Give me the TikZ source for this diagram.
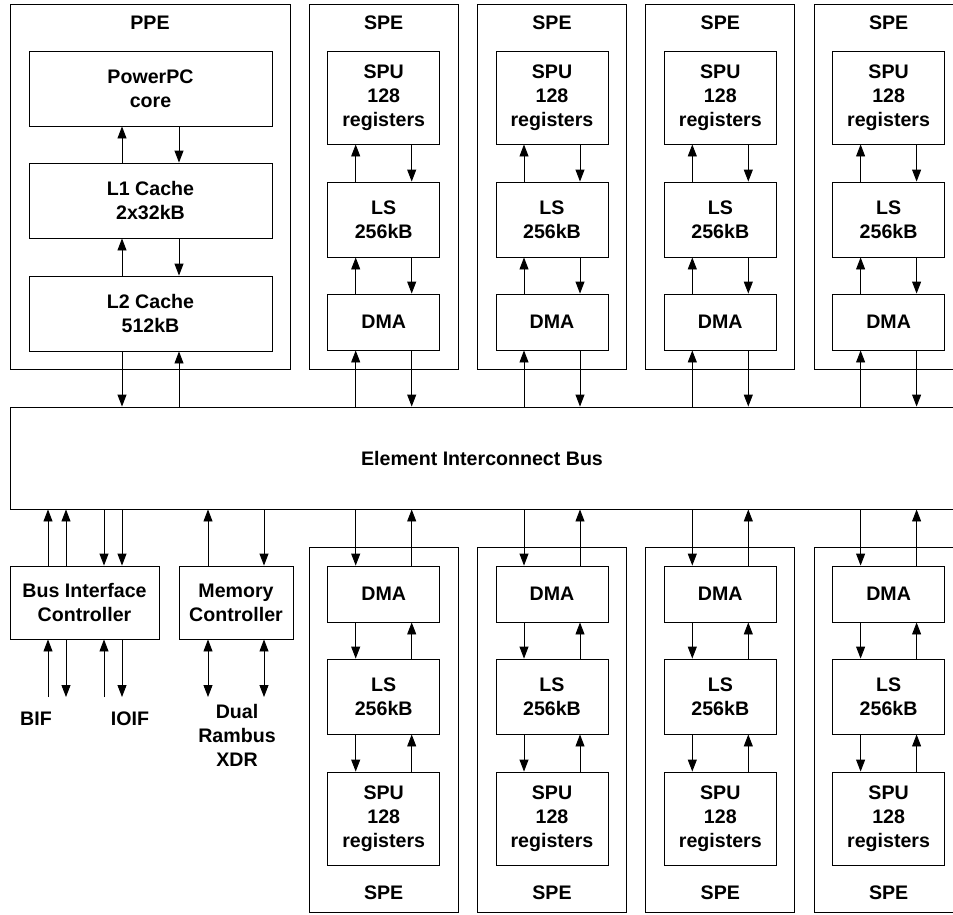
\documentclass[tikz,border=0pt]{standalone}
\usepackage{fontspec}
\setmainfont{Liberation Sans}
\usetikzlibrary{arrows.meta}
\tikzset{
  every node/.style={font=\fontsize{19.6}{24}\selectfont\bfseries, align=center, inner sep=0pt},
  boxline/.style={draw=black, line width=0.9pt},
  outerbox/.style={boxline},
  unitbox/.style={boxline},
  lbl/.style={},
  arr/.style={draw=black, line width=0.9pt, -{Triangle[width=9pt,length=12pt]}},
  darr/.style={draw=black, line width=0.9pt, {Triangle[width=9pt,length=12pt]}-{Triangle[width=9pt,length=12pt]}}
}
\begin{document}
\begin{tikzpicture}[x=1pt,y=-1pt]
\useasboundingbox (0,0) rectangle (953,914);
\clip (0,0) rectangle (953,914);

% Bus
\node[boxline, minimum width=990pt, minimum height=102pt] (bus) at (505,458) {};
\node[lbl] (busL) at (482,458) {Element Interconnect Bus};

% PPE
\node[outerbox, minimum width=280pt, minimum height=365pt] (ppe) at (150,186.5) {};
\node[lbl] (ppeL) at (150,23) {PPE};
\node[unitbox, minimum width=243pt, minimum height=75pt] (ppc) at (150.5,88.5) {PowerPC\\core};
\node[unitbox, minimum width=243pt, minimum height=75pt] (l1) at (150.5,200.5) {L1 Cache\\2x32kB};
\node[unitbox, minimum width=243pt, minimum height=75pt] (l2) at (150.5,313.5) {L2 Cache\\512kB};
\draw[arr] ([xshift=-28.5pt]l1.north) -- ([xshift=-28.5pt]ppc.south);
\draw[arr] ([xshift=28.5pt]ppc.south) -- ([xshift=28.5pt]l1.north);
\draw[arr] ([xshift=-28.5pt]l2.north) -- ([xshift=-28.5pt]l1.south);
\draw[arr] ([xshift=28.5pt]l1.south) -- ([xshift=28.5pt]l2.north);
\coordinate (pA) at ([xshift=-28.5pt]l2.south);
\coordinate (pB) at ([xshift=28.5pt]l2.south);
\draw[arr] (pA) -- (pA |- bus.north);
\draw[arr] (pB |- bus.north) -- (pB);

% SPEs
\foreach \k in {0,1,2,3}{
  \pgfmathsetmacro\cx{383.7+168.3*\k}
  % top row
  \node[outerbox, minimum width=149pt, minimum height=365pt] (tspe\k) at (\cx,186.5) {};
  \node[lbl] (tspeL\k) at (\cx,23) {SPE};
  \node[unitbox, minimum width=112pt, minimum height=93pt] (tspu\k) at (\cx,97.5) {SPU\\128\\registers};
  \node[unitbox, minimum width=112pt, minimum height=75pt] (tls\k) at (\cx,219.5) {LS\\256kB};
  \node[unitbox, minimum width=112pt, minimum height=56pt] (tdma\k) at (\cx,322) {DMA};
  \draw[arr] ([xshift=-28pt]tls\k.north) -- ([xshift=-28pt]tspu\k.south);
  \draw[arr] ([xshift=28pt]tspu\k.south) -- ([xshift=28pt]tls\k.north);
  \draw[arr] ([xshift=-28pt]tdma\k.north) -- ([xshift=-28pt]tls\k.south);
  \draw[arr] ([xshift=28pt]tls\k.south) -- ([xshift=28pt]tdma\k.north);
  \coordinate (tA\k) at ([xshift=-28pt]tdma\k.south);
  \coordinate (tB\k) at ([xshift=28pt]tdma\k.south);
  \draw[arr] (tA\k |- bus.north) -- (tA\k);
  \draw[arr] (tB\k) -- (tB\k |- bus.north);
  % bottom row
  \node[outerbox, minimum width=149pt, minimum height=365pt] (bspe\k) at (\cx,729.5) {};
  \node[lbl] (bspeL\k) at (\cx,893) {SPE};
  \node[unitbox, minimum width=112pt, minimum height=56pt] (bdma\k) at (\cx,594) {DMA};
  \node[unitbox, minimum width=112pt, minimum height=75pt] (bls\k) at (\cx,696.5) {LS\\256kB};
  \node[unitbox, minimum width=112pt, minimum height=93pt] (bspu\k) at (\cx,818.5) {SPU\\128\\registers};
  \coordinate (bA\k) at ([xshift=-28pt]bdma\k.north);
  \coordinate (bB\k) at ([xshift=28pt]bdma\k.north);
  \draw[arr] (bA\k |- bus.south) -- (bA\k);
  \draw[arr] (bB\k) -- (bB\k |- bus.south);
  \draw[arr] ([xshift=-28pt]bdma\k.south) -- ([xshift=-28pt]bls\k.north);
  \draw[arr] ([xshift=28pt]bls\k.north) -- ([xshift=28pt]bdma\k.south);
  \draw[arr] ([xshift=-28pt]bls\k.south) -- ([xshift=-28pt]bspu\k.north);
  \draw[arr] ([xshift=28pt]bspu\k.north) -- ([xshift=28pt]bls\k.south);
}

% Bus Interface Controller
\node[unitbox, minimum width=149pt, minimum height=73pt] (bic) at (84.5,602.5) {Bus Interface\\Controller};
\coordinate (c1) at (48,639);
\coordinate (c2) at (66,639);
\coordinate (c3) at (104,639);
\coordinate (c4) at (122,639);
\draw[arr] (c1 |- bic.north) -- (c1 |- bus.south);
\draw[arr] (c2 |- bic.north) -- (c2 |- bus.south);
\draw[arr] (c3 |- bus.south) -- (c3 |- bic.north);
\draw[arr] (c4 |- bus.south) -- (c4 |- bic.north);
\coordinate (e1) at (48,697);
\coordinate (e2) at (66,697);
\coordinate (e3) at (104,697);
\coordinate (e4) at (122,697);
\draw[arr] (e1) -- (e1 |- bic.south);
\draw[arr] (e2 |- bic.south) -- (e2);
\draw[arr] (e3) -- (e3 |- bic.south);
\draw[arr] (e4 |- bic.south) -- (e4);
\node[lbl] (bif) at (36,719) {BIF};
\node[lbl] (ioif) at (130,719) {IOIF};

% Memory Controller
\node[unitbox, minimum width=114pt, minimum height=73pt] (mc) at (236,602.5) {Memory\\Controller};
\coordinate (m1) at ([xshift=-28pt]mc.north);
\coordinate (m2) at ([xshift=28pt]mc.north);
\draw[arr] (m1) -- (m1 |- bus.south);
\draw[arr] (m2 |- bus.south) -- (m2);
\coordinate (f1) at (208,697);
\coordinate (f2) at (264,697);
\draw[darr] (f1 |- mc.south) -- (f1);
\draw[darr] (f2 |- mc.south) -- (f2);
\node[lbl] (xdr) at (237,735) {Dual\\Rambus\\XDR};
\end{tikzpicture}
\end{document}
